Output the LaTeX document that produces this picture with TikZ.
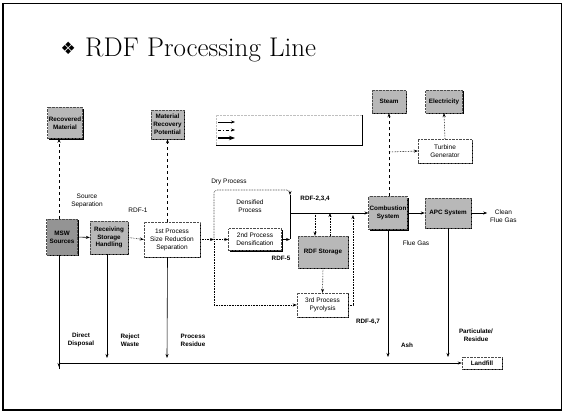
\documentclass[tikz,border=0pt]{standalone}
\usepackage{fontspec}
\setsansfont{Liberation Sans}
\newfontfamily\symfont{DejaVu Sans}
\usetikzlibrary{shadows,arrows.meta}
\begin{document}
\begin{tikzpicture}[x=1pt,y=-1pt,
  box/.style={draw=black!70, densely dotted, fill=white, inner sep=1pt, align=center,
    font=\sffamily\fontsize{6.5}{8}\selectfont,
    drop shadow={shadow xshift=1.3pt,shadow yshift=-1.3pt,fill=black,opacity=1}},
  gbox/.style={box, fill=black!28, font=\sffamily\bfseries\fontsize{6.3}{7.8}\selectfont},
  dgbox/.style={gbox, fill=black!42},
  lbl/.style={font=\sffamily\fontsize{6.5}{8}\selectfont, align=center, inner sep=0pt},
  blbl/.style={lbl, font=\sffamily\bfseries\fontsize{6.3}{7.8}\selectfont},
  flow/.style={-{Stealth[length=4pt,width=3pt]}, line width=0.6pt},
  dflow/.style={flow, densely dotted},
  dashflow/.style={flow, dashed},
  plain/.style={line width=0.6pt}
]
\useasboundingbox (0,0) rectangle (565,414);
% frame
\draw[line width=0.7pt] (3,3) rectangle (561,410);
\draw[line width=1.6pt] (2.8,3) -- (2.8,410.2) -- (561,410.2);
% title
\node[anchor=base west, inner sep=0pt, font=\fontsize{27}{30}\selectfont] (title) at (85,57) {RDF Processing Line};
\node[anchor=base east, inner sep=0pt, font=\symfont\fontsize{17}{20}\selectfont] (dia) at (76,55) {❖};

% boxes
\node[gbox, minimum width=35pt, minimum height=31pt] (rec) at (65,123) {Recovered\\Material};
\node[gbox, minimum width=33pt, minimum height=29pt] (mrp) at (167.5,124.5) {Material\\Recovery\\Potential};
\node[gbox, minimum width=34pt, minimum height=23pt] (steam) at (389,101.5) {Steam};
\node[gbox, minimum width=37pt, minimum height=23pt] (elec) at (444,101.5) {Electricity};
\node[box, minimum width=54pt, minimum height=24pt] (turb) at (445,151) {Turbine\\Generator};
\node[dgbox, minimum width=31pt, minimum height=36pt] (msw) at (62,237) {MSW\\Sources};
\node[gbox, minimum width=38pt, minimum height=33pt] (recv) at (109,237.5) {Receiving\\Storage\\Handling};
\node[box, minimum width=56pt, minimum height=35pt] (p1) at (172,239.5) {1st Process\\Size Reduction\\Separation};
\node[box, minimum width=53pt, minimum height=22pt] (p2) at (255,239.5) {2nd Process\\Densification};
\node[gbox, minimum width=50pt, minimum height=32pt] (stor) at (323,252) {RDF Storage};
\node[box, minimum width=51pt, minimum height=24pt] (p3) at (322.5,305) {3rd Process\\Pyrolysis};
\node[gbox, minimum width=38pt, minimum height=33pt] (comb) at (388,213) {Combustion\\System};
\node[gbox, minimum width=46pt, minimum height=30pt] (apc) at (448,213) {APC System};
\node[gbox, minimum width=40pt, minimum height=12pt, fill=white] (land) at (482,363) {Landfill};

% legend
\node[draw=black!25, densely dotted, minimum width=146pt, minimum height=30pt, inner sep=0pt] (leg) at (289,130) {};
\draw[line width=1.2pt] (leg.north east) -- (leg.south east) -- (leg.south west);
\coordinate (la1) at (218,122); \coordinate (lb1) at (235,122);
\coordinate (la2) at (218,130); \coordinate (lb2) at (235,130);
\coordinate (la3) at (218,138); \coordinate (lb3) at (235,138);
\draw[flow, line width=0.5pt] (la1) -- (lb1);
\draw[flow, dash dot] (la2) -- (lb2);
\draw[-{Stealth[length=6pt,width=4.5pt]}, line width=1.2pt] (la3) -- (lb3);

% coordinates
\coordinate (j) at (214,239.5);
\coordinate (vt) at (290,190);
\coordinate (vb) at (290,239.5);
\coordinate (vm) at (290,213);
\coordinate (r67) at (353,305);
\coordinate (r67t) at (353,215);
\coordinate (br) at (389,152);
\coordinate (bl) at (59,363);

% upward recovery
\draw[dashflow] (msw.north -| bl) -- (rec.south -| bl);
\draw[dashflow] (mrp.south |- p1.north) -- (mrp.south);
% main line
\draw[flow] (msw.east) -- (recv.west);
\draw[dflow] (recv.east) -- (p1.west);
\draw[dflow] (p1.east) -- (j);
\draw[dflow] (j) -- (p2.west);
\draw[dflow, rounded corners=3pt] (j) |- (vt) -- ([yshift=-5pt]vt);
\draw[plain] ([yshift=-5pt]vt) -- (vb);
\draw[flow, rounded corners=2pt] (p2.east) -- (vb);
\draw[flow] (vm) -- (comb.west);
\draw[dflow] (j) |- (p3.west);
\draw[dflow] (p3.east) -- (r67) -- (r67t);
\draw[dflow] (vm -| 315,0) -- (stor.north -| 315,0);
\draw[dflow] (stor.north -| 330,0) -- (vm -| 330,0);
\draw[dflow] (stor.south) -- (p3.north);
\draw[flow] (comb.east) -- (apc.west);
\draw[flow] (apc.east) -- ++(16,0) coordinate (cfg);
% steam / electricity
\draw[dashflow] (comb.north -| br) -- (steam.south -| br);
\draw[dflow] (br) -- (turb.west);
\draw[dflow] (turb.north) -- (elec.south);
% residues
\draw[flow] (msw.south -| bl) -- ([yshift=-4pt]bl);
\draw[flow] ([yshift=-6pt]bl) |- (land.west);
\draw[flow] (recv.south -| 107,0) -- (107,358);
\draw[flow] (p1.south -| mrp.south) -- (167,358);
\draw[flow] (comb.south) -- (comb.south |- 0,357);
\draw[flow] (apc.south) -- (apc.south |- 0,357);

% labels
\node[lbl] (ss) at (87,201) {Source\\Separation};
\node[lbl] (rdf1) at (138,210) {RDF-1};
\node[lbl] (dry) at (229,182) {Dry Process};
\node[blbl] (rdf234) at (315,199) {RDF-2,3,4};
\node[lbl] (dens) at (250,206) {Densified\\Process};
\node[blbl] (rdf5) at (281,258) {RDF-5};
\node[blbl] (rdf67) at (368,322) {RDF-6,7};
\node[lbl] (fg) at (416,243) {Flue Gas};
\node[lbl, anchor=west] (cfgl) at (490,216) {Clean\\Flue Gas};
\node[blbl] (dd) at (81,340) {Direct\\Disposal};
\node[blbl] (rw) at (130,340) {Reject\\Waste};
\node[blbl] (pr) at (193,340) {Process\\Residue};
\node[blbl] (ash) at (407,345) {Ash};
\node[blbl] (pres) at (476,335) {Particulate/\\Residue};
\end{tikzpicture}
\end{document}
